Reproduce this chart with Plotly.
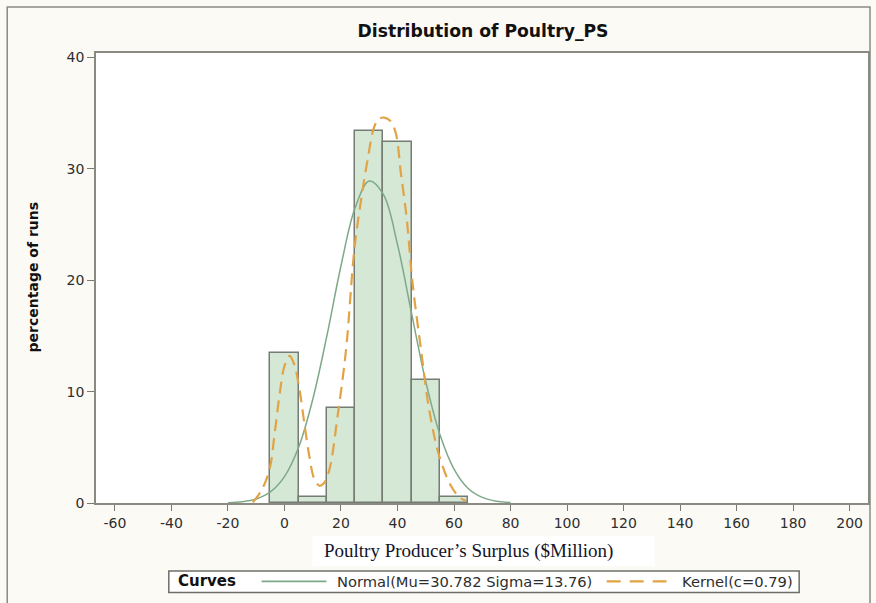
import plotly.graph_objects as go

# Histogram (percent of runs), bins of width 10 centred on these midpoints
bin_mid = [0, 10, 20, 30, 40, 50, 60]
bin_pct = [13.5, 0.5, 8.5, 33.4, 32.4, 11.0, 0.5]

# Normal curve
normal_x = [-20, -15, -10, -5, 0, 5, 10, 15, 20, 25, 30, 35, 40, 45, 50, 55, 60, 65, 70, 75, 80]
normal_y = [0.03, 0.11, 0.36, 0.99, 2.37, 5.0, 9.3, 15.0, 21.3, 26.5, 28.9, 27.7, 23.2, 17.0,
            10.9, 6.15, 3.04, 1.3, 0.5, 0.16, 0.05]

# Kernel curve
kernel_x = [-11.2, -8.0, -5.3, -3.5, -1.8, 0.0, 1.8, 3.5, 5.3, 7.0, 8.8, 10.5, 12.4, 14.0, 15.9,
            18.8, 21.8, 24.7, 27.1, 29.4, 31.8, 33.5, 35.3, 37.5, 39.4, 41.2, 43.2, 45.3, 48.3,
            51.2, 54.8, 58.9, 62.0, 64.2]
kernel_y = [0.05, 1.2, 3.0, 6.2, 9.6, 12.3, 13.2, 12.4, 10.2, 7.2, 4.2, 2.2, 1.55, 1.8, 3.0,
            7.8, 13.8, 22.7, 27.2, 30.8, 33.8, 34.5, 34.6, 34.3, 33.2, 29.6, 25.7, 19.8, 13.8,
            8.4, 4.2, 1.55, 0.5, 0.2]

x_ticks = [-60, -40, -20, 0, 20, 40, 60, 80, 100, 120, 140, 160, 180, 200]
x_tick_labels = ["-60", "-40", "-20", "0", "20", "40", "60", "80", "100", "120", "140",
                 "160", "180", "200"]
y_ticks = [0, 10, 20, 30, 40]

normal_name = "Normal(Mu=30.782 Sigma=13.76)"
kernel_name = "Kernel(c=0.79)"

GREEN = "#7EA888"
ORANGE = "#E2A345"
SANS = "DejaVu Sans, Verdana, sans-serif"
TICK = "#2E2E2E"

fig = go.Figure()
fig.add_trace(go.Bar(
    x=bin_mid, y=bin_pct, width=10,
    marker=dict(color="#D5E7D5", line=dict(color="#747C74", width=1.5)),
    showlegend=False, hoverinfo="skip"))
fig.add_trace(go.Scatter(
    x=normal_x, y=normal_y, mode="lines", line_shape="spline",
    line=dict(color=GREEN, width=1.5), name=normal_name, showlegend=False))
fig.add_trace(go.Scatter(
    x=kernel_x, y=kernel_y, mode="lines", line_shape="spline",
    line=dict(color=ORANGE, width=2.2, dash="12px,7px"), name=kernel_name, showlegend=False))

L, R, T, B = 96, 6, 53, 99.5
W, H = 876, 603
pw, ph = W - L - R, H - T - B

def px_x(p):
    return (p - L) / pw

def px_y(p):
    return (H - B - p) / ph

leg_y = px_y(582)

def ann(text, x, y, size, color, family=SANS, xanchor="center", angle=0):
    return dict(text=text, xref="paper", yref="paper", x=px_x(x), y=px_y(y),
                xanchor=xanchor, yanchor="middle", textangle=angle, showarrow=False,
                font=dict(family=family, size=size, color=color))

fig.update_layout(
    width=W, height=H,
    margin=dict(l=L, r=R, t=T, b=B),
    paper_bgcolor="#FCFAF4",
    plot_bgcolor="#FFFFFF",
    font=dict(family=SANS, size=14, color=TICK),
    bargap=0,
    showlegend=False,
    title=dict(text="<b>Distribution of Poultry_PS</b>", x=px_x(484), xref="paper",
               xanchor="center",
               y=1 - 31 / H, yref="container", yanchor="middle",
               font=dict(family=SANS, size=17.2, color="#111111")),
    xaxis=dict(range=[-66.7, 206.5], tickvals=x_ticks, ticktext=x_tick_labels,
               ticks="outside", ticklen=6,
               tickcolor="#7A7A72", showgrid=False, zeroline=False, showline=True,
               linecolor="#8A8A82", linewidth=1.5, mirror=True,
               tickfont=dict(family=SANS, size=14, color=TICK)),
    yaxis=dict(range=[0, 40.4], tickvals=y_ticks, ticks="outside", ticklen=7,
               tickcolor="#7A7A72", showgrid=False, zeroline=False, showline=True,
               linecolor="#8A8A82", linewidth=1.5, mirror=True,
               tickfont=dict(family=SANS, size=14, color=TICK)),
    shapes=[
        dict(type="rect", xref="paper", yref="paper", x0=px_x(7), x1=px_x(872),
             y0=px_y(612), y1=px_y(7), line=dict(color="#8A8A82", width=1.5),
             fillcolor="rgba(0,0,0,0)", layer="below"),
        dict(type="rect", xref="paper", yref="paper", x0=px_x(313), x1=px_x(656),
             y0=px_y(566.5), y1=px_y(536.7), line=dict(width=0), fillcolor="#FFFFFF",
             layer="below"),
        # legend box
        dict(type="rect", xref="paper", yref="paper", x0=px_x(169), x1=px_x(801),
             y0=px_y(593), y1=px_y(571.5), line=dict(color="#6E6E68", width=1.5),
             fillcolor="#FFFFFF", layer="below"),
        dict(type="line", xref="paper", yref="paper", x0=px_x(262), x1=px_x(327),
             y0=leg_y, y1=leg_y, line=dict(color=GREEN, width=1.6)),
        dict(type="line", xref="paper", yref="paper", x0=px_x(608), x1=px_x(668),
             y0=leg_y, y1=leg_y, line=dict(color=ORANGE, width=2.2, dash="14px,9px")),
    ],
    annotations=[
        ann("<b>percentage of runs</b>", 33, 277.5, 14, "#111111", angle=-90),
        ann("Poultry Producer\u2019s Surplus ($Million)", 469, 551.5, 19, "#141428",
            family="Liberation Serif, Times New Roman, serif"),
        ann("<b>Curves</b>", 176.5, 582, 15, "#111111", xanchor="left"),
        ann(normal_name, 336, 582, 14.7, TICK, xanchor="left"),
        ann(kernel_name, 682, 582, 14.7, TICK, xanchor="left"),
    ],
)

fig.write_html("out.html", post_script="document.body.style.margin='0';",
               config={"displayModeBar": False})
